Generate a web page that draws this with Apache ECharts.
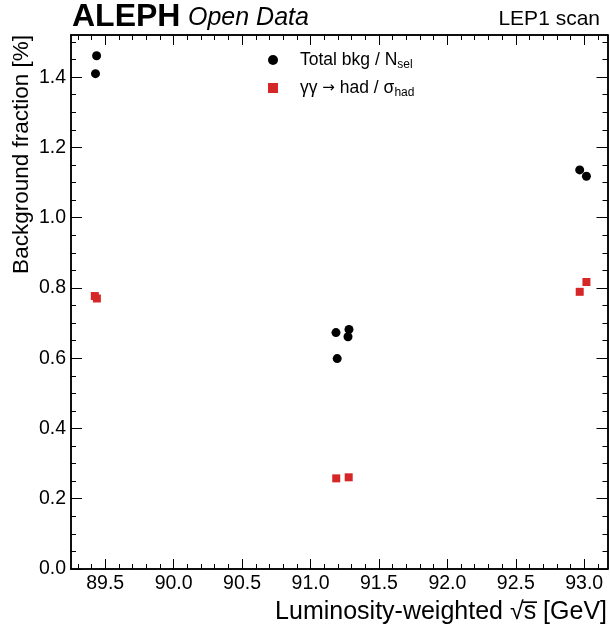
<!DOCTYPE html>
<html>
<head>
<meta charset="utf-8">
<script src="https://cdn.jsdelivr.net/npm/echarts@6/dist/echarts.min.js"></script>
<style>
html,body{margin:0;padding:0;background:#fff;}
#chart{width:610px;height:628px;}
</style>
</head>
<body>
<div id="chart"></div>
<script>
// ---- Data ----
const bkgSqrtS = [89.437, 89.429, 91.186, 91.281, 91.274, 91.195, 92.967, 93.016];
const bkgFraction = [1.461, 1.410, 0.673, 0.682, 0.661, 0.599, 1.136, 1.118];
const ggSqrtS = [89.424, 89.439, 91.188, 91.279, 92.967, 93.016];
const ggFraction = [0.777, 0.770, 0.258, 0.261, 0.789, 0.817];

const xTickValues = [89.5, 90.0, 90.5, 91.0, 91.5, 92.0, 92.5, 93.0];
const yTickValues = [0.0, 0.2, 0.4, 0.6, 0.8, 1.0, 1.2, 1.4];
const xRange = [89.25, 93.17];
const yRange = [0, 1.52];

function minorTicks(majors, step, n, lo, hi) {
  const out = [];
  const d = step / n;
  for (let v = Math.ceil(lo / d - 1e-9) * d; v <= hi + 1e-9; v += d) {
    const r = Math.round(v * 1000) / 1000;
    if (r < lo || r > hi) continue;
    if (majors.some(m => Math.abs(m - r) < 1e-6)) continue;
    out.push(r);
  }
  return out;
}
const xMinor = minorTicks(xTickValues, 0.5, 5, xRange[0], xRange[1]);
const yMinor = minorTicks(yTickValues, 0.2, 4, yRange[0], yRange[1]);

const FONT = 'Liberation Sans';
const lineStyle = { color: '#000', width: 1.5 };

function xAxisDef(pos, major, labels) {
  return {
    type: 'value', position: pos, min: xRange[0], max: xRange[1],
    axisLine: { show: true, onZero: false, lineStyle: lineStyle },
    axisTick: { show: true, inside: true, length: major ? 10 : 5, customValues: major ? xTickValues : xMinor, lineStyle: { color: '#000', width: 1 } },
    axisLabel: labels ? { show: true, customValues: xTickValues, formatter: v => v.toFixed(1), fontFamily: FONT, fontSize: 19.5, color: '#000', margin: 5 } : { show: false },
    splitLine: { show: false }
  };
}
function yAxisDef(pos, major, labels) {
  return {
    type: 'value', position: pos, min: yRange[0], max: yRange[1],
    axisLine: { show: true, onZero: false, lineStyle: lineStyle },
    axisTick: { show: true, inside: true, length: major ? 11 : 5, customValues: major ? yTickValues : yMinor, lineStyle: { color: '#000', width: 1 } },
    axisLabel: labels ? { show: true, customValues: yTickValues, formatter: v => v.toFixed(1), fontFamily: FONT, fontSize: 19.5, color: '#000', margin: 5 } : { show: false },
    splitLine: { show: false }
  };
}

const chart = echarts.init(document.getElementById('chart'), null, { renderer: 'canvas' });
chart.setOption({
  animation: false,
  backgroundColor: '#fff',
  grid: { left: 71, right: 2.5, top: 35, bottom: 59, containLabel: false },
  xAxis: [
    xAxisDef('bottom', true, true),
    xAxisDef('top', true, false),
    xAxisDef('bottom', false, false),
    xAxisDef('top', false, false)
  ],
  yAxis: [
    yAxisDef('left', true, true),
    yAxisDef('right', true, false),
    yAxisDef('left', false, false),
    yAxisDef('right', false, false)
  ],
  legend: {
    orient: 'vertical', left: 263, top: 44, itemGap: 6, itemWidth: 10, itemHeight: 10,
    textStyle: {
      fontFamily: FONT, fontSize: 17.5, color: '#000', lineHeight: 22, padding: [0, 0, 0, 17],
      rich: {
        m: { fontFamily: FONT, fontSize: 17.5, color: '#000', lineHeight: 22 },
        ar: { fontFamily: 'DejaVu Sans', fontSize: 15, color: '#000', lineHeight: 22 },
        sub: { fontFamily: FONT, fontSize: 12, color: '#000', lineHeight: 12, verticalAlign: 'bottom' }
      }
    },
    formatter: function (name) {
      if (name === 'bkg') return '{m|Total bkg / N}{sub|sel}';
      return '{m|\u03b3\u03b3 }{ar|\u2192}{m| had / \u03c3}{sub|had}';
    },
    data: [{ name: 'bkg', icon: 'circle' }, { name: 'gg', icon: 'rect' }]
  },
  series: [
    {
      name: 'bkg', type: 'scatter', symbol: 'circle', symbolSize: 9,
      itemStyle: { color: '#000', opacity: 1 },
      data: bkgSqrtS.map((x, i) => [x, bkgFraction[i]])
    },
    {
      name: 'gg', type: 'scatter', symbol: 'rect', symbolSize: 8,
      itemStyle: { color: '#d62728', opacity: 1 },
      data: ggSqrtS.map((x, i) => [x, ggFraction[i]])
    }
  ],
  graphic: [
    { type: 'text', x: 72, y: 17, style: { text: 'ALEPH', fontFamily: FONT, fontWeight: 'bold', fontSize: 32, fill: '#000', verticalAlign: 'middle', align: 'left' } },
    { type: 'text', x: 188, y: 18.5, style: { text: 'Open Data', fontFamily: FONT, fontStyle: 'italic', fontSize: 25, fill: '#000', verticalAlign: 'middle', align: 'left' } },
    { type: 'text', x: 600, y: 19.5, style: { text: 'LEP1 scan', fontFamily: FONT, fontSize: 21, fill: '#000', verticalAlign: 'middle', align: 'right' } },
    { type: 'text', x: 22, y: 35, rotation: Math.PI / 2, style: { text: 'Background fraction [%]', fontFamily: FONT, fontSize: 22.5, fill: '#000', verticalAlign: 'middle', align: 'right' } },
    { type: 'text', x: 607, y: 612, style: { text: 'Luminosity-weighted \u221as\u0305 [GeV]', fontFamily: FONT, fontSize: 25, fill: '#000', verticalAlign: 'middle', align: 'right' } }
  ]
});
</script>
</body>
</html>
